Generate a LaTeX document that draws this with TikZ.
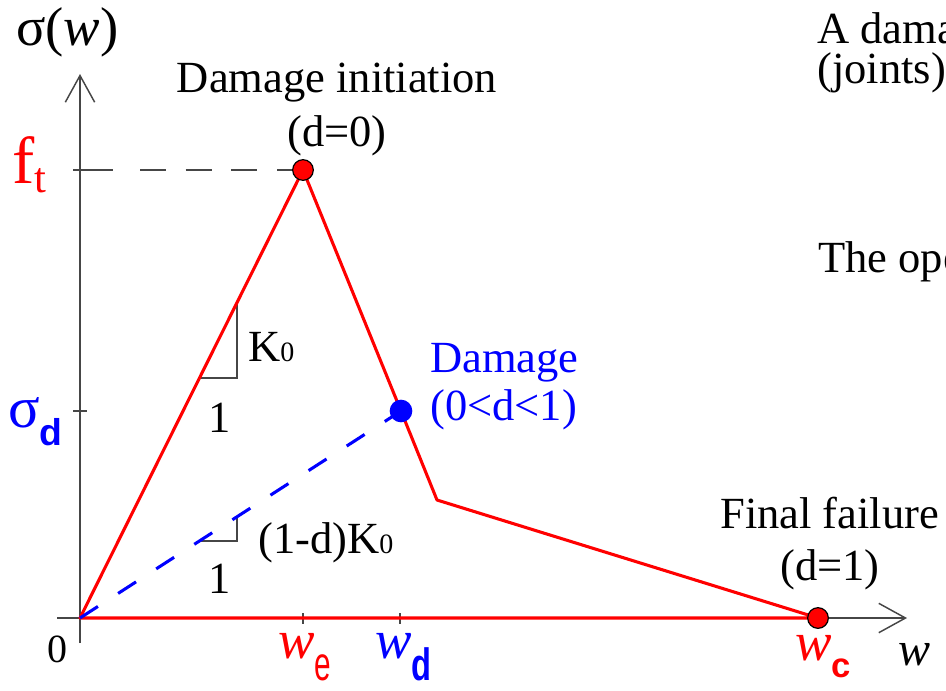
\documentclass[tikz,border=0pt]{standalone}
\usepackage{fontspec}
\setmainfont{Liberation Serif}
\newfontfamily\sansf{Liberation Sans}
\usetikzlibrary{arrows.meta}
\definecolor{axisgray}{RGB}{70,70,70}
\definecolor{myred}{RGB}{255,0,0}
\definecolor{myblue}{RGB}{0,0,255}
\newcommand\myfs[1]{\fontsize{#1}{#1}\selectfont}
\begin{document}
\begin{tikzpicture}[x=0.75pt,y=-0.75pt,
  axis/.style={draw=axisgray, line width=1.1pt},
  tip/.style={-{Straight Barb[length=20pt,width=22pt,line width=1.1pt]}},
  curve/.style={draw=myred, line width=2.3pt, line join=round},
  bluedash/.style={draw=myblue, line width=2.3pt, dash pattern=on 16pt off 18pt},
  thin/.style={draw=axisgray, line width=1pt},
  dotr/.style={circle, fill=myred, draw=black, line width=0.9pt, minimum size=15.5pt, inner sep=0pt},
  dotb/.style={circle, fill=myblue, draw=none, minimum size=17pt, inner sep=0pt},
  txt/.style={inner sep=0pt, font=\myfs{33.4}},
]
\useasboundingbox (0,0) rectangle (946,690);
% key points
\coordinate (O) at (80,618);
\coordinate (ytop) at (80,74);
\coordinate (ybot) at (80,643);
\coordinate (xleft) at (57,618);
\coordinate (xright) at (907,618);
\coordinate (peak) at (303,170);
\coordinate (dmg) at (401,411);
\coordinate (kink) at (437,500);
\coordinate (fail) at (818,618);
% axes
\draw[axis,tip] (ybot) -- (ytop);
\draw[axis,tip] (xleft) -- (xright);
% ticks
\coordinate (ftL) at (73,170);
\coordinate (ftR) at (113,170);
\coordinate (ftD) at (140,170);
\draw[axis] (ftL) -- (ftR);
\draw[axis, dash pattern=on 19.5pt off 14.8pt] (ftD) -- (peak);
\coordinate (sdL) at (73,411);
\coordinate (sdR) at (87,411);
\draw[axis] (sdL) -- (sdR);
\coordinate (weT) at (303,613);
\coordinate (weB) at (303,624);
\coordinate (wdT) at (400,613);
\coordinate (wdB) at (400,624);
\draw[thin] (weT) -- (weB);
\draw[thin] (wdT) -- (wdB);
% slope triangles
\coordinate (k1) at (199.5,378);
\coordinate (k2) at (237,378);
\coordinate (k3) at (237,302.6);
\draw[thin] (k1) -- (k2) -- (k3);
\coordinate (m1) at (199,541);
\coordinate (m2) at (237,541);
\coordinate (m3) at (237,516.4);
\draw[thin] (m1) -- (m2) -- (m3);
% curves
\draw[curve] (O) -- (peak) -- (dmg) -- (kink) -- (fail) -- cycle;
\draw[bluedash] (O) -- (dmg);
% dots
\node[dotr] (peakdot) at (peak) {};
\node[dotb] (dmgdot) at (dmg) {};
\node[dotr] (faildot) at (fail) {};
% labels
\node[txt, anchor=base west] (sigw) at (16,45) {\myfs{41}σ(\textit{w})};
\node[txt, anchor=base] (initA) at (337,92) {Damage initiation};
\node[txt, anchor=base] (initB) at (337,146) {(d=0)};
\node[txt, anchor=base west, text=myred] (ft) at (12,183) {\myfs{50}f\raisebox{-7pt}{\myfs{32}t}};
\node[txt, anchor=base west, text=myblue] (sd) at (8,427) {\myfs{44}σ\raisebox{-14pt}{\myfs{28}\sansf\bfseries d}};
\node[txt, anchor=base west] (K0a) at (248,361) {K\myfs{21}0};
\node[txt, anchor=base] (one1) at (220,432) {1};
\node[txt, anchor=base] (one2) at (220,593) {1};
\node[txt, anchor=base west] (dK0) at (258,553) {(1-d)K\myfs{21}0};
\node[txt, anchor=base west, text=myblue] (dmgA) at (430,372) {Damage};
\node[txt, anchor=base west, text=myblue] (dmgB) at (430,420) {(0<d<1)};
\node[txt, anchor=base west] (failA) at (720,528) {Final failure};
\node[txt, anchor=base] (failB) at (830,580) {(d=1)};
\node[txt, anchor=base west] (zero) at (47,662) {\myfs{30}0};
\node[txt, anchor=base west] (wlab) at (898,665) {\myfs{36}\textit{w}};
\node[txt, anchor=base west, text=myred] (we) at (278,658) {\myfs{41}\textit{w}\raisebox{-17pt}{\scalebox{0.62}[1]{\myfs{36}\sansf e}}};
\node[txt, anchor=base west, text=myblue] (wd) at (375,658) {\myfs{41}\textit{w}\raisebox{-17pt}{\scalebox{0.72}[1]{\myfs{34}\sansf\bfseries d}}};
\node[txt, anchor=base west, text=myred] (wc) at (795,660) {\myfs{41}\textit{w}\raisebox{-13pt}{\myfs{26}\sansf\bfseries c}};
\node[txt, anchor=base west] (rt1) at (817,43) {A dama};
\node[txt, anchor=base west] (rt2) at (817,83) {(joints):};
\node[txt, anchor=base west] (rt3) at (818,272) {The ope};
\end{tikzpicture}
\end{document}
